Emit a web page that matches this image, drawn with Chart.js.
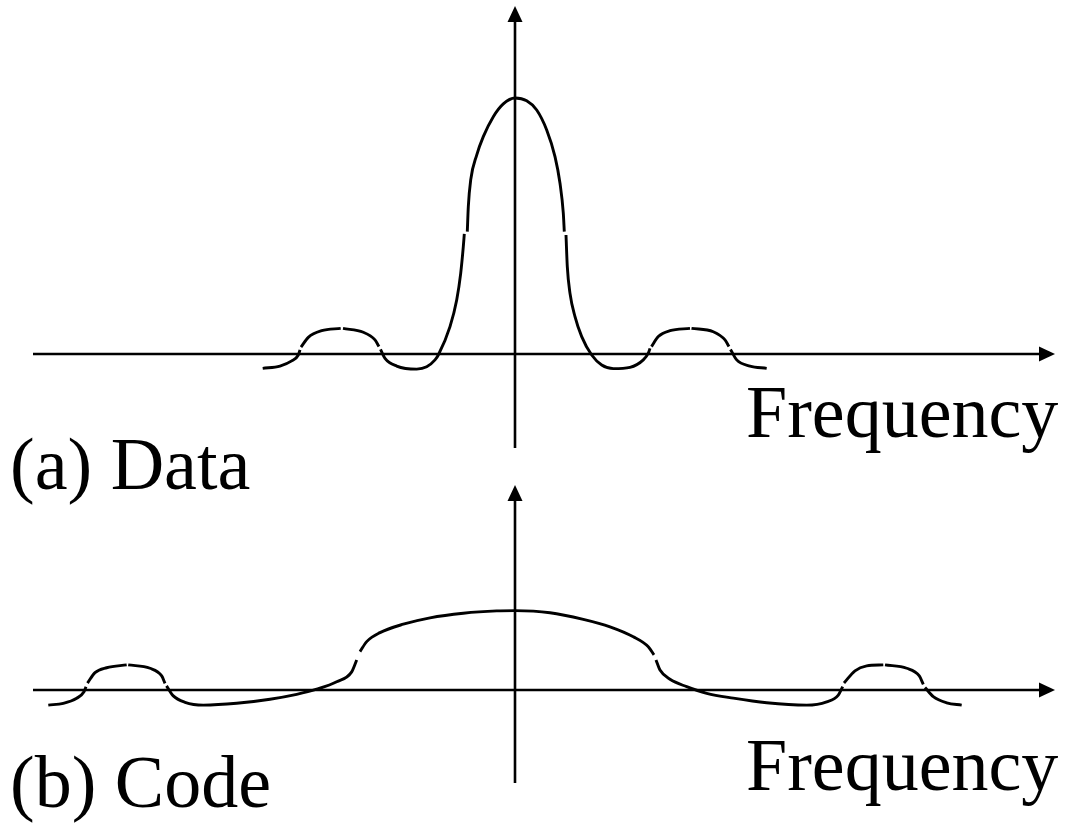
<!DOCTYPE html>
<html>
<head>
<meta charset="utf-8">
<script src="https://cdn.jsdelivr.net/npm/chart.js@4/dist/chart.umd.min.js"></script>
<style>
html, body { margin: 0; padding: 0; background: #fff; }
#wrap { position: relative; width: 1066px; height: 825px; }
</style>
</head>
<body>
<div id="wrap"><canvas id="myCanvas" width="1066" height="825"></canvas></div>
<script>
// (a) data spectrum: frequency (arbitrary units, 0 = centre), amplitude normalised to the peak
// a null amplitude marks a small break in the drawn curve
var dataFreq = [-2.523,-2.35,-2.233,-2.167,-2.15,-2.145,-2.14,-2.067,-1.933,-1.743,-1.732,-1.72,-1.517,-1.40,-1.36,-1.352,
	-1.345,-1.30,-1.183,-0.983,-0.883,-0.80,-0.767,-0.65,-0.583,-0.543,-0.517,-0.507,-0.492,
	-0.477,-0.467,-0.443,-0.383,-0.317,-0.217,-0.117,0,0.117,0.217,0.317,0.40,0.45,0.483,0.493,0.502,
	0.51,0.523,0.55,0.60,0.667,0.767,0.867,0.983,1.15,1.283,1.333,1.35,1.357,
	1.365,1.433,1.55,1.75,1.757,1.765,1.983,2.10,2.14,2.148,2.155,2.217,2.35,2.517];
var dataAmp = [-0.056,-0.047,-0.027,-0.004,0.016,null,0.027,0.065,0.091,0.100,null,0.100,0.085,0.055,0.029,null,
	0.018,-0.017,-0.047,-0.059,-0.050,-0.023,-0.004,0.107,0.211,0.315,0.419,0.469,null,
	0.478,0.575,0.680,0.777,0.849,0.927,0.977,1.0,0.989,0.953,0.875,0.771,0.667,0.550,0.478,null,
	0.465,0.341,0.237,0.146,0.068,-0.004,-0.043,-0.057,-0.052,-0.023,0.003,0.022,null,
	0.029,0.068,0.091,0.100,null,0.100,0.087,0.055,0.029,null,0.018,-0.023,-0.047,-0.056];

// (b) code spectrum, same units
var codeFreq = [-4.667,-4.517,-4.383,-4.31,-4.29,-4.282,-4.275,-4.20,-4.083,-3.883,-3.875,-3.868,-3.65,-3.533,-3.50,-3.492,
	-3.485,-3.417,-3.30,-3.117,-2.783,-2.45,-2.183,-1.983,-1.783,-1.633,-1.583,-1.567,
	-1.55,-1.483,-1.35,-1.117,-0.85,-0.517,-0.183,0,0.35,0.683,0.95,1.183,1.333,1.39,1.40,
	1.41,1.45,1.55,1.717,1.917,2.183,2.517,2.917,3.117,3.233,3.277,3.283,
	3.29,3.40,3.517,3.683,3.692,3.70,3.917,4.043,4.083,4.092,4.10,4.183,4.317,4.467];
var codeAmp = [-0.059,-0.052,-0.032,-0.007,0.013,null,0.027,0.068,0.087,0.098,null,0.098,0.085,0.055,0.026,null,
	0.016,-0.023,-0.048,-0.059,-0.052,-0.036,-0.017,0.003,0.032,0.071,0.117,null,
	0.150,0.189,0.224,0.257,0.282,0.300,0.309,0.310,0.302,0.276,0.247,0.208,0.169,0.137,null,
	0.117,0.078,0.042,0.013,-0.013,-0.032,-0.050,-0.059,-0.046,-0.020,0.013,null,
	0.027,0.075,0.094,0.098,null,0.098,0.085,0.055,0.022,null,0.010,-0.026,-0.050,-0.059];

var panelLabels = ['(a) Data', '(b) Code'];
var axisTitle = 'Frequency';

// where each panel's axes, arrows and texts go
var panels = [
	{ scale: 'yA', xFrom: -4.82, xTo: 5.40, yFrom: -0.367, yTo: 1.359, label: panelLabels[0], labelX: 10, labelY: 489, titleX: 746, titleY: 437 },
	{ scale: 'yB', xFrom: -4.82, xTo: 5.40, yFrom: -0.363, yTo: 0.801, label: panelLabels[1], labelX: 10, labelY: 807, titleX: 746, titleY: 790 }
];

function toPoints(fx, ay) {
	var pts = [];
	for (var i = 0; i < fx.length; i++) pts.push({ x: fx[i], y: ay[i] });
	return pts;
}

// axes with arrow heads + texts
var axesPlugin = {
	id: 'axes',
	afterDatasetsDraw: function(chart) {
		var c = chart.ctx, xs = chart.scales.x;
		panels.forEach(function(p) {
			var ys = chart.scales[p.scale];
			var x0 = xs.getPixelForValue(0), y0 = ys.getPixelForValue(0);
			var left = xs.getPixelForValue(p.xFrom), tip = xs.getPixelForValue(p.xTo);
			var top = ys.getPixelForValue(p.yTo), bottom = ys.getPixelForValue(p.yFrom);
			c.save();
			c.strokeStyle = '#000'; c.fillStyle = '#000'; c.lineWidth = 2.6;
			c.beginPath();
			c.moveTo(left, y0); c.lineTo(tip - 12, y0);
			c.moveTo(x0, bottom); c.lineTo(x0, top + 12);
			c.stroke();
			c.beginPath();
			c.moveTo(tip, y0); c.lineTo(tip - 16, y0 - 7.5); c.lineTo(tip - 16, y0 + 7.5); c.closePath(); c.fill();
			c.beginPath();
			c.moveTo(x0, top); c.lineTo(x0 - 7.5, top + 16); c.lineTo(x0 + 7.5, top + 16); c.closePath(); c.fill();
			c.font = '74px "Liberation Serif", "Times New Roman", serif';
			c.textBaseline = 'alphabetic'; c.textAlign = 'left';
			c.fillText(axisTitle, p.titleX, p.titleY);
			c.fillText(p.label, p.labelX, p.labelY);
			c.restore();
		});
	}
};

var ctx = document.getElementById('myCanvas').getContext('2d');
var lineStyle = { borderColor: '#000', borderWidth: 2.9, pointRadius: 0, fill: false, spanGaps: false, cubicInterpolationMode: 'monotone' };

var myChart = new Chart(ctx, {
	type: 'line',
	data: {
		datasets: [
			Object.assign({ label: 'Data', data: toPoints(dataFreq, dataAmp), yAxisID: 'yA' }, lineStyle),
			Object.assign({ label: 'Code', data: toPoints(codeFreq, codeAmp), yAxisID: 'yB' }, lineStyle)
		]
	},
	options: {
		responsive: false,
		animation: false,
		events: [],
		layout: { padding: 0 },
		plugins: { legend: { display: false }, tooltip: { enabled: false } },
		scales: {
			x: { type: 'linear', display: false, min: -5.15, max: 5.51 },
			yA: { type: 'linear', display: false, min: -1.83984, max: 1.38281 },
			yB: { type: 'linear', display: false, min: -0.52734, max: 2.69531 }
		}
	},
	plugins: [axesPlugin]
});
</script>
</body>
</html>
